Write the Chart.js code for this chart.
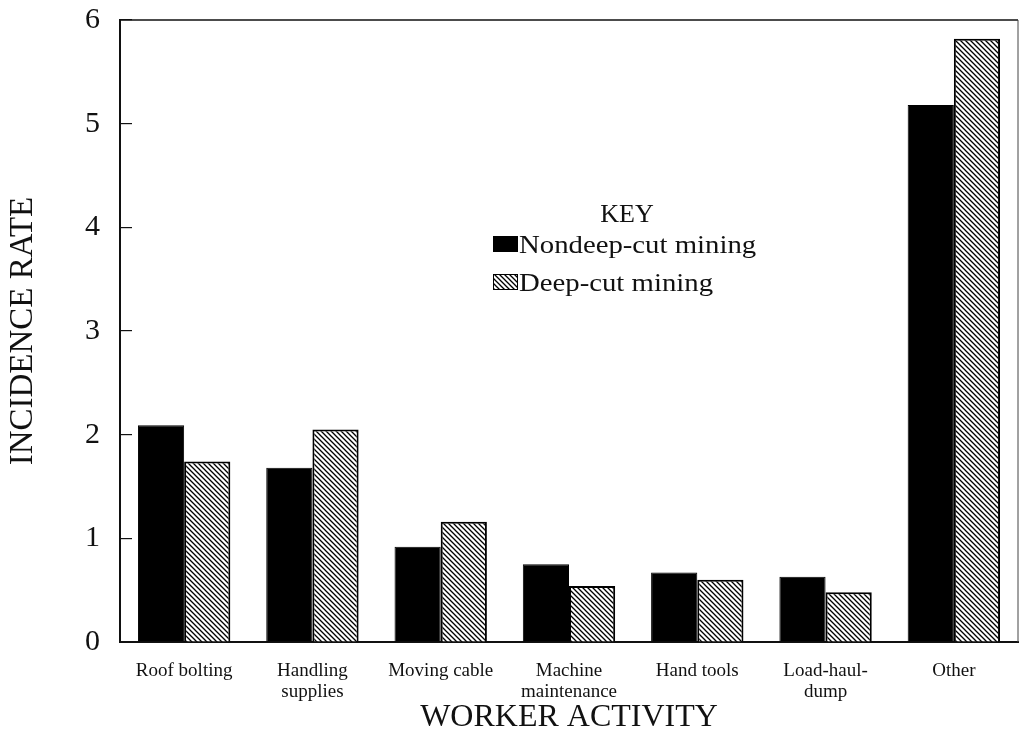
<!DOCTYPE html>
<html>
<head>
<meta charset="utf-8">
<title>Incidence rate by worker activity</title>
<script src="https://cdn.jsdelivr.net/npm/chart.js@4/dist/chart.umd.min.js"></script>
<style>
  html, body { margin: 0; padding: 0; background: #fff; }
  #wrap { width: 1020px; height: 748px; }
</style>
</head>
<body>
<div id="wrap"><canvas id="activityChart" width="1020" height="748"></canvas></div>
<script>
// Chart values
const activities = [
  "Roof bolting",
  ["Handling", "supplies"],
  "Moving cable",
  ["Machine", "maintenance"],
  "Hand tools",
  ["Load-haul-", "dump"],
  "Other"
];
const nondeepCut = [2.09, 1.68, 0.92, 0.75, 0.67, 0.63, 5.18];
const deepCut = [1.74, 2.05, 1.16, 0.54, 0.60, 0.48, 5.82];
const seriesNames = ["Nondeep-cut mining", "Deep-cut mining"];
const yTicks = [0, 1, 2, 3, 4, 5, 6];

const serif = "'Liberation Serif', 'DejaVu Serif', serif";
const ink = "#111";

// Diagonal hatch for the deep-cut bars
function makeHatch() {
  var tile = document.createElement("canvas");
  tile.width = 5;
  tile.height = 5;
  var c = tile.getContext("2d");
  c.fillStyle = "#fff";
  c.fillRect(0, 0, 5, 5);
  c.strokeStyle = "#000";
  c.lineWidth = 1.3;
  c.beginPath();
  c.moveTo(-1, -1); c.lineTo(6, 6);
  c.moveTo(-1, 4); c.lineTo(1, 6);
  c.moveTo(4, -1); c.lineTo(6, 1);
  c.stroke();
  return c.createPattern(tile, "repeat");
}
var ctx = document.getElementById("activityChart").getContext("2d");
var hatch = makeHatch();

// Top and right frame lines around the plot area
var frameLines = {
  id: "frameLines",
  afterDatasetsDraw(chart) {
    var a = chart.chartArea;
    var c = chart.ctx;
    c.save();
    c.strokeStyle = ink;
    c.lineWidth = 1.5;
    c.beginPath();
    c.moveTo(a.left, a.top);
    c.lineTo(a.right, a.top);
    c.stroke();
    c.lineWidth = 1;
    c.strokeStyle = "#444";
    c.beginPath();
    c.moveTo(a.right, a.top);
    c.lineTo(a.right, a.bottom);
    c.stroke();
    c.restore();
  }
};

// The "KEY" box inside the plot
var keyBox = {
  id: "keyBox",
  afterDraw(chart) {
    var c = chart.ctx;
    var x = 493;
    var rowBase = [253, 291];
    c.save();
    c.fillStyle = ink;
    c.font = "26px " + serif;
    c.textAlign = "center";
    c.textBaseline = "alphabetic";
    c.fillText("KEY", 627, 222);
    c.textAlign = "left";
    c.font = "25px " + serif;
    chart.data.datasets.forEach(function (ds, i) {
      var base = rowBase[i];
      c.fillStyle = ds.backgroundColor;
      c.fillRect(x, base - 17, 25, 16);
      c.strokeStyle = "#000";
      c.lineWidth = 1;
      c.strokeRect(x + 0.5, base - 16.5, 24, 15);
      // the printed key type runs a little wider than Times
      c.save();
      c.translate(x + 26, base);
      c.scale(1.15, 1);
      c.fillStyle = ink;
      c.fillText(ds.label, 0, 0);
      c.restore();
    });
    c.restore();
  }
};

var chartConfig = {
  type: "bar",
  data: {
    labels: activities,
    datasets: [
      {
        label: seriesNames[0],
        data: nondeepCut,
        backgroundColor: "#000",
        borderColor: "#000",
        borderWidth: 1
      },
      {
        label: seriesNames[1],
        data: deepCut,
        backgroundColor: hatch,
        borderColor: "#000",
        borderWidth: 2
      }
    ]
  },
  options: {
    responsive: false,
    animation: false,
    categoryPercentage: 0.72,
    barPercentage: 1.0,
    layout: {
      padding: { top: 20, right: 2, bottom: 0, left: 0 }
    },
    plugins: {
      legend: { display: false },
      tooltip: { enabled: false }
    },
    scales: {
      x: {
        grid: { display: false },
        border: { display: true, color: ink, width: 2 },
        ticks: {
          color: ink,
          padding: 11,
          maxRotation: 0,
          autoSkip: false,
          font: { family: serif, size: 19, lineHeight: 1.1 }
        },
        title: {
          display: true,
          text: "WORKER ACTIVITY",
          color: ink,
          font: { family: serif, size: 32 },
          padding: { top: 0, bottom: 11 }
        },
        afterFit(scale) {
          scale.height = 106;
        }
      },
      y: {
        min: 0,
        max: 6,
        afterBuildTicks(scale) {
          scale.ticks = yTicks.map(function (v) { return { value: v }; });
        },
        grid: {
          drawOnChartArea: false,
          drawTicks: true,
          tickLength: -12,
          tickColor: ink,
          lineWidth: 1.2
        },
        border: { display: true, color: ink, width: 2 },
        ticks: {
          color: ink,
          padding: 32,
          font: { family: serif, size: 30 }
        },
        title: {
          display: true,
          text: "INCIDENCE RATE",
          color: ink,
          font: { family: serif, size: 33 },
          padding: { top: 4, bottom: 0 }
        },
        afterFit(scale) {
          scale.width = 120;
          // keep the big tick padding from pushing the plot down
          scale.paddingTop = 0;
          scale.paddingBottom = 0;
        }
      }
    }
  },
  plugins: [frameLines, keyBox]
};

window.activityChart = new Chart(ctx, chartConfig);
</script>
</body>
</html>
